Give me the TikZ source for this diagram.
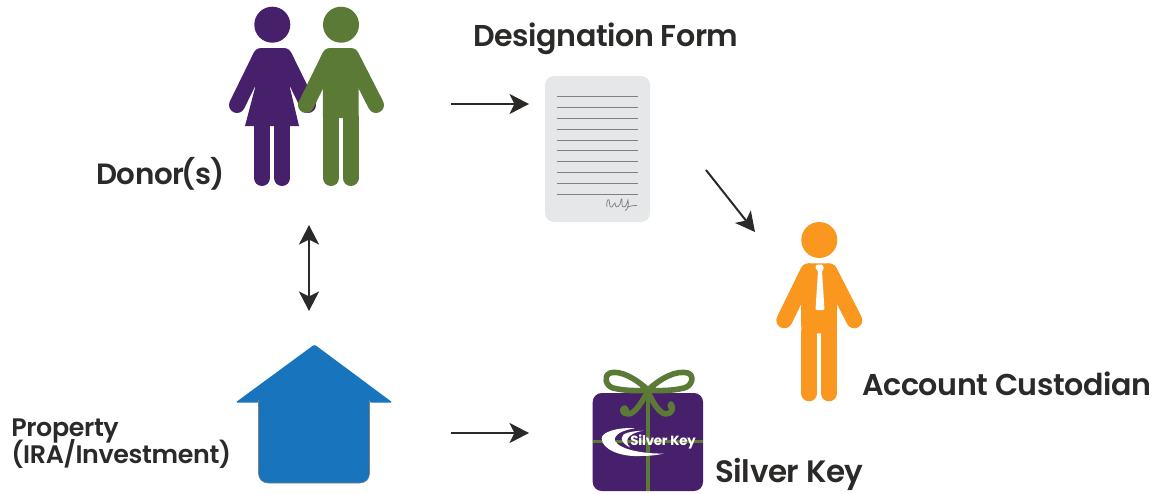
\documentclass[tikz,border=0pt]{standalone}
\usepackage{fontspec}
\setmainfont{Poppins}[UprightFont=* SemiBold,BoldFont=* Bold,LetterSpace=-1.4]
\usetikzlibrary{arrows.meta}
\definecolor{ink}{HTML}{2B2A29}
\definecolor{plum}{HTML}{47206C}
\definecolor{moss}{HTML}{5A7A35}
\definecolor{amber}{HTML}{F9971E}
\definecolor{azure}{HTML}{1874BC}
\definecolor{sheet}{HTML}{E6E7E8}
\definecolor{rule}{HTML}{7F8080}
\tikzset{
  headtip/.tip={Stealth[length=14.6pt,width=15pt,inset=3.7pt]},
  flow/.style={draw=ink,line width=1.5pt,-headtip},
  flowboth/.style={draw=ink,line width=1.5pt,headtip-headtip},
  label/.style={text=ink,anchor=base west,inner sep=0pt,font=\fontsize{22.6}{26}\selectfont},
  smalllabel/.style={text=ink,anchor=base west,inner sep=0pt,font=\fontsize{19}{21}\selectfont},
  limb/.style={line width=12pt,line cap=round},
  docline/.style={draw=rule,line width=0.75pt},
  ribbon/.style={draw=moss,line width=4.2pt,line cap=round,line join=round},
}
% man: x offset is the head centre
\newcommand{\manfig}[3]{%
  \begin{scope}[shift={(#1,#2)}]
    \fill[#3] (0,24.7) circle (18);
    \draw[#3,limb] (-11,56) -- (-35,105);
    \draw[#3,limb] (10,56) -- (35,105);
    \fill[#3] (-11,48) -- (10,48) -- (18,56) -- (17.5,118) -- (-18,118) -- (-18.5,56) -- cycle;
    \draw[#3,limb] (-10,118) -- (-10,178);
    \draw[#3,limb] (9.5,118) -- (9.5,178);
  \end{scope}}
\begin{document}
\begin{tikzpicture}[x=0.75pt,y=-0.75pt]
\useasboundingbox (0,0) rectangle (1160,493);
\fill[white] (0,0) rectangle (1160,493);
% woman
\fill[plum] (272.3,24.7) circle (18);
\draw[plum,limb] (261,56) -- (237,105);
\draw[plum,limb] (284,56) -- (308,105);
\fill[plum] (261,48) -- (284,48) -- (291,56) -- (290,88) -- (299,126) -- (245,126) -- (255,88) -- (253.5,56) -- cycle;
\draw[plum,limb] (262,120) -- (262,178);
\draw[plum,limb] (282,120) -- (282,178);
% men
\manfig{341}{0}{moss}
\manfig{819.3}{215.3}{amber}
% tie
\fill[white,rounded corners=0.8pt] (816.5,264.5) -- (822.5,264.5) -- (824,268.5) -- (822,271) -- (824.5,310) -- (815.5,310) -- (818,271) -- (815.2,268) -- cycle;
% document
\fill[sheet,rounded corners=9*0.75pt] (545,76) rectangle (650,222);
\foreach \yy in {0,...,9} \draw[docline] (557,96.7+10.85*\yy) -- (638,96.7+10.85*\yy);
\draw[rule,line width=0.55pt] (607,207) .. controls (606,203) and (608,198) .. (609,200) .. controls (610,203) and (609,208) .. (612,207) .. controls (613,206) and (614,203) .. (615,203) .. controls (615,208) and (618,208) .. (620,204) .. controls (621,201) and (621,198) .. (622,199) .. controls (622,203) and (621,207) .. (624,207) .. controls (626,207) and (627,203) .. (628,200) .. controls (629,204) and (628,210) .. (625,210.5) (627,207) .. controls (630,206) and (633,205.5) .. (637,205.5);
% house
\fill[azure,rounded corners=1pt] (314.5,344.5) -- (392.5,402.5) -- (369.5,402.5) -- (369.5,402.5) -- (258.5,402.5) -- (235.5,402.5) -- cycle;
\fill[azure,draw=gray,line width=0.4pt,rounded corners=7pt] (258.5,400) -- (258.5,483) -- (369.5,483) -- (369.5,400);
\fill[azure] (259,398) rectangle (369,405);
% gift
\fill[plum,rounded corners=9*0.75pt] (592.7,393) rectangle (703,491);
\draw[moss,line width=3.2pt] (648,392) -- (648,491);
\draw[moss,line width=2.6pt] (592.7,441.7) -- (703,441.7);
\draw[ribbon] (648,390) .. controls (635,378) and (620,370) .. (610,373) .. controls (603,376) and (606,386) .. (613,388) .. controls (625,391) and (640,391) .. (648,390);
\draw[ribbon] (648,390) .. controls (661,378) and (676,370) .. (688,373) .. controls (695,376) and (692,386) .. (684,388) .. controls (672,391) and (656,391) .. (648,390);
\draw[ribbon] (648,391) .. controls (642,402) and (635,414) .. (628,414) .. controls (622,414) and (621,408) .. (625,408);
\draw[ribbon] (648,391) .. controls (652,402) and (660,414) .. (666,414) .. controls (672,414) and (674,408) .. (671,404);
\fill[moss] (625.5,410) circle (3.6);
\fill[moss] (671,406) circle (3.6);
% swoosh logo
\fill[white] (635,428.3) .. controls (618,427) and (601.7,432) .. (601.7,438.3) .. controls (601.7,449) and (620,457) .. (640,456) .. controls (650,456) and (658,455) .. (664,453.5) .. controls (645,454) and (620,450) .. (615,441) .. controls (613,434) and (625,429.5) .. (635,428.3) -- cycle;
\fill[white] (643.3,430.7) .. controls (632,431) and (621,433) .. (621.7,438.3) .. controls (622,443) and (627,446) .. (630,447.3) .. controls (625,442) and (625,434) .. (643.3,430.7) -- cycle;
\node[name=logotext,text=white,inner sep=0pt,anchor=base west,font=\bfseries\fontsize{10}{11}\selectfont] at (630,445.5) {Silver Key};
% labels
\node[label,font=\fontsize{22}{26}\selectfont] (donor) at (96,184.3) {Donor\kern-2pt(s\kern-1pt)};
\node[label] (form) at (473,46) {Designation Form};
\node[label] (custodian) at (862,395.7) {Account Custodian};
\node[label,font=\fontsize{23.2}{26}\selectfont] (silver) at (715,482.5) {Silver Key};
\node[smalllabel] (property) at (11,436.7) {Property};
\node[smalllabel] (investment) at (11,463) {(IRA/Investment)};
% connectors
\coordinate (a1) at (451,104); \coordinate (a2) at (529,104);
\coordinate (b1) at (706,170); \coordinate (b2) at (755,232);
\coordinate (c1) at (309,225); \coordinate (c2) at (309,311);
\coordinate (d1) at (451,433); \coordinate (d2) at (529,433);
\draw[flow] (a1) -- (a2);
\draw[flow] (b1) -- (b2);
\draw[flowboth] (c1) -- (c2);
\draw[flow] (d1) -- (d2);
\end{tikzpicture}
\end{document}
